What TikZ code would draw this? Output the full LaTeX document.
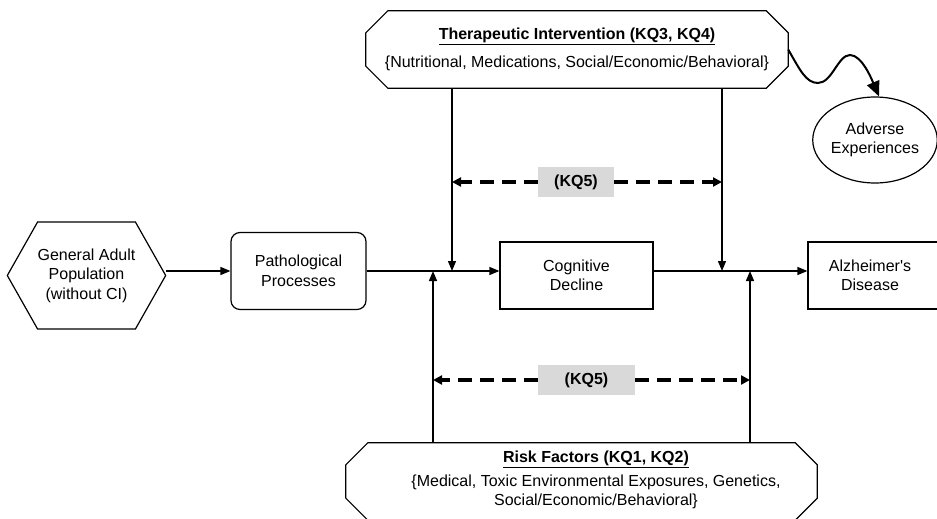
\documentclass[tikz,border=0pt]{standalone}
\usepackage{fontspec}
\setmainfont{Liberation Sans}
\usetikzlibrary{arrows.meta,shapes.geometric,shapes.symbols}
\definecolor{kqgray}{RGB}{217,217,217}
% octagon round a named rectangle node, corners cut by 22pt
\def\octagon#1{\draw[line width=1.2pt] ([xshift=22pt]#1.north west) -- ([xshift=-22pt]#1.north east)
  -- ([yshift=-22pt]#1.north east) -- ([yshift=22pt]#1.south east) -- ([xshift=-22pt]#1.south east)
  -- ([xshift=22pt]#1.south west) -- ([yshift=22pt]#1.south west) -- ([yshift=-22pt]#1.north west) -- cycle;}
\tikzset{
  box/.style={draw, line width=1.2pt, align=center, inner sep=0pt},
  octa/.style={align=center, inner sep=0pt, minimum height=77pt},
  flow/.style={line width=1.3pt, -{Triangle[length=10pt,width=8pt]}},
  kqarrow/.style={line width=3.2pt, dash pattern=on 13.5pt off 8.5pt, -{Triangle[length=9pt,width=9pt]}},
  kqlabel/.style={fill=kqgray, font=\fontsize{16}{19.5}\selectfont\bfseries, minimum height=30pt, inner sep=0pt},
  wave/.style={line width=2pt, -{Triangle[length=15pt,width=13pt]}}
}

\begin{document}
\begin{tikzpicture}[x=1pt,y=-1pt,every node/.style={font=\fontsize{16}{19.5}\selectfont}]
\useasboundingbox (0,0) rectangle (937,519);

%main chain
\node[box, signal, signal to=east and west, signal pointer angle=121,
  minimum width=153pt, minimum height=107pt] (pop) at (86.5,275.5) {General Adult\\Population\\(without CI)};
\node[box, rounded corners=9pt, minimum width=135pt, minimum height=77pt] (proc) at (298.5,271) {Pathological\\Processes};
\node[box, minimum width=153pt, minimum height=67pt] (cog) at (576.5,275.5) {Cognitive\\Decline};
\node[box, minimum width=153pt, minimum height=67pt] (alz) at (884.5,275.5) {};
\node[align=center] (alztext) at (870,275.5) {Alzheimer\textquotesingle s\\Disease};

%intervention and risk
\node[octa, minimum width=422pt] (therapy) at (577,49.5)
  {\textbf{\underline{Therapeutic Intervention (KQ3, KQ4)}}\\[8pt]\{Nutritional, Medications, Social/Economic/Behavioral\}};
\octagon{therapy}
\node[octa, minimum width=471pt] (risk) at (581.5,481.5) {};
\octagon{risk}
\node[align=center] (risktext) at (596,480)
  {\textbf{\underline{Risk Factors (KQ1, KQ2)}}\\[4pt]\{Medical, Toxic Environmental Exposures, Genetics,\\Social/Economic/Behavioral\}};
\node[draw, ellipse, line width=1.2pt, minimum width=116pt, minimum height=86pt, inner sep=0pt, align=center] (adverse) at (875,140) {Adverse\\Experiences};

\draw[flow] (pop.east |- proc.west) -- (proc.west);
\draw[flow] (proc.east) -- (cog.west |- proc.east);
\draw[flow] (cog.east |- proc.east) -- (alz.west |- proc.east);

%junctions
\coordinate (t1) at (452,271);
\coordinate (t2) at (722,271);
\coordinate (r1) at (433,271);
\coordinate (r2) at (750,271);
\draw[flow] (t1 |- therapy.south) -- (t1);
\draw[flow] (t2 |- therapy.south) -- (t2);
\draw[flow] (r1 |- risk.north) -- (r1);
\draw[flow] (r2 |- risk.north) -- (r2);

%KQ5
\node[kqlabel, minimum width=76pt] (kqtop) at (576,182) {(KQ5)};
\node[kqlabel, minimum width=97pt] (kqbot) at (586.5,380) {(KQ5)};
\draw[kqarrow] (kqtop.west) -- (t1 |- kqtop.west);
\draw[kqarrow] (kqtop.east) -- (t2 |- kqtop.east);
\draw[kqarrow] (kqbot.west) -- (r1 |- kqbot.west);
\draw[kqarrow] (kqbot.east) -- (r2 |- kqbot.east);

\draw[wave] (therapy.east) .. controls (800,70) and (806,83) .. (818,83)
  .. controls (832,83) and (838,55) .. (850,55) .. controls (862,55) and (872,80) .. ([xshift=4pt]adverse.north);

\end{tikzpicture}
\end{document}
